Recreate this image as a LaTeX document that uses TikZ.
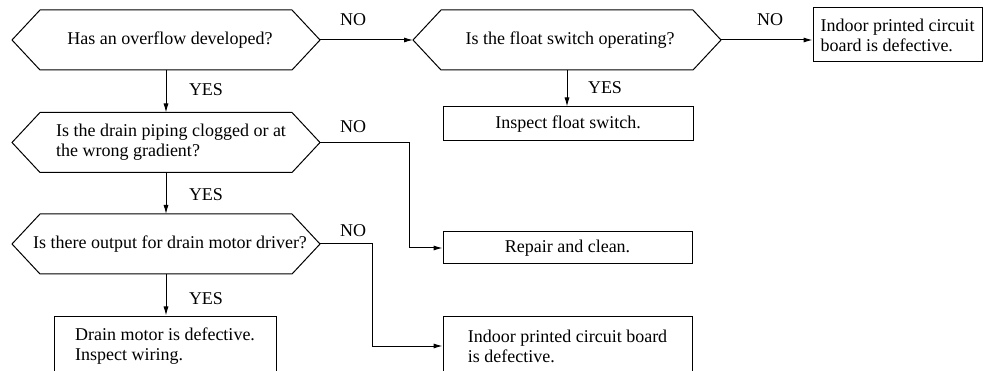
\documentclass[tikz,border=0pt]{standalone}
\usepackage{fontspec}
\setmainfont{Liberation Serif}
\usetikzlibrary{arrows.meta,calc}
\begin{document}
\begin{tikzpicture}[x=1pt,y=-1pt,line width=1pt,
  font=\fontsize{18}{20}\selectfont,
  qtext/.style={inner sep=0pt,align=left},
  box/.style={draw,inner sep=0pt,align=left},
  lbl/.style={inner sep=0pt},
  arr/.style={-{Latex[length=9pt,width=5pt]}}]
\useasboundingbox (0,0) rectangle (985,371);
% hexagon centres
\coordinate (h1-c) at (166,40);
\coordinate (h2-c) at (166,142.5);
\coordinate (h3-c) at (166,244);
\coordinate (hf-c) at (567,40);
% question texts
\node[qtext] (h1) at ($(h1-c)+(4,0)$) {Has an overflow developed?};
\node[qtext] (h2) at ($(h2-c)+(5,0)$) {Is the drain piping clogged or at\\the wrong gradient?};
\node[qtext] (h3) at ($(h3-c)+(4,0)$) {Is there output for drain motor driver?};
\node[qtext] (hf) at ($(hf-c)+(3,0)$) {Is the float switch operating?};
% hexagons
\foreach \n in {h1,h2,h3,hf}{
  \coordinate (\n-w) at ($(\n-c)+(-154,0)$);
  \coordinate (\n-e) at ($(\n-c)+(154,0)$);
  \coordinate (\n-n) at ($(\n-c)+(0,-30)$);
  \coordinate (\n-s) at ($(\n-c)+(0,30)$);
  \draw (\n-w) -- ++(28,-30) -- ++(252,0) -- (\n-e) -- ++(-28,30) -- ++(-252,0) -- cycle;
}
% boxes
\node[box,minimum width=169pt,minimum height=54pt] (pcb1) at (897.5,35) {Indoor printed circuit\\board is defective.};
\node[box,minimum width=250pt,minimum height=34pt] (insp) at (568,124) {Inspect float switch.};
\node[box,minimum width=249pt,minimum height=32pt] (rep) at (567.5,248) {Repair and clean.};
\node[box,minimum width=222pt,minimum height=60pt] (mot) at (165,346) {Drain motor is defective.\\Inspect wiring.};
\node[box,minimum width=249pt,minimum height=60pt] (pcb2) at (567.5,346) {Indoor printed circuit board\\is defective.};
% labels
\node[lbl] (no1) at (353,20) {NO};
\node[lbl] (no2) at (770,20) {NO};
\node[lbl] (no3) at (353,127) {NO};
\node[lbl] (no4) at (353,231) {NO};
\node[lbl] (yes1) at (206,90) {YES};
\node[lbl] (yes2) at (605,88) {YES};
\node[lbl] (yes3) at (206,195) {YES};
\node[lbl] (yes4) at (206,299) {YES};
% connectors
\coordinate (j1) at (409,248);
\coordinate (j2) at (372,346);
\draw[arr] (h1-e) -- (hf-w);
\draw[arr] (hf-e) -- (hf-e -| pcb1.west);
\draw[arr] (h1-s) -- (h2-n);
\draw[arr] (hf-s) -- (hf-s |- insp.north);
\draw[arr] (h2-s) -- (h3-n);
\draw[arr] (h3-s) -- (h3-s |- mot.north);
\draw[arr] (h2-e) -| (j1) -- (rep.west);
\draw[arr] (h3-e) -| (j2) -- (pcb2.west);
\end{tikzpicture}
\end{document}
